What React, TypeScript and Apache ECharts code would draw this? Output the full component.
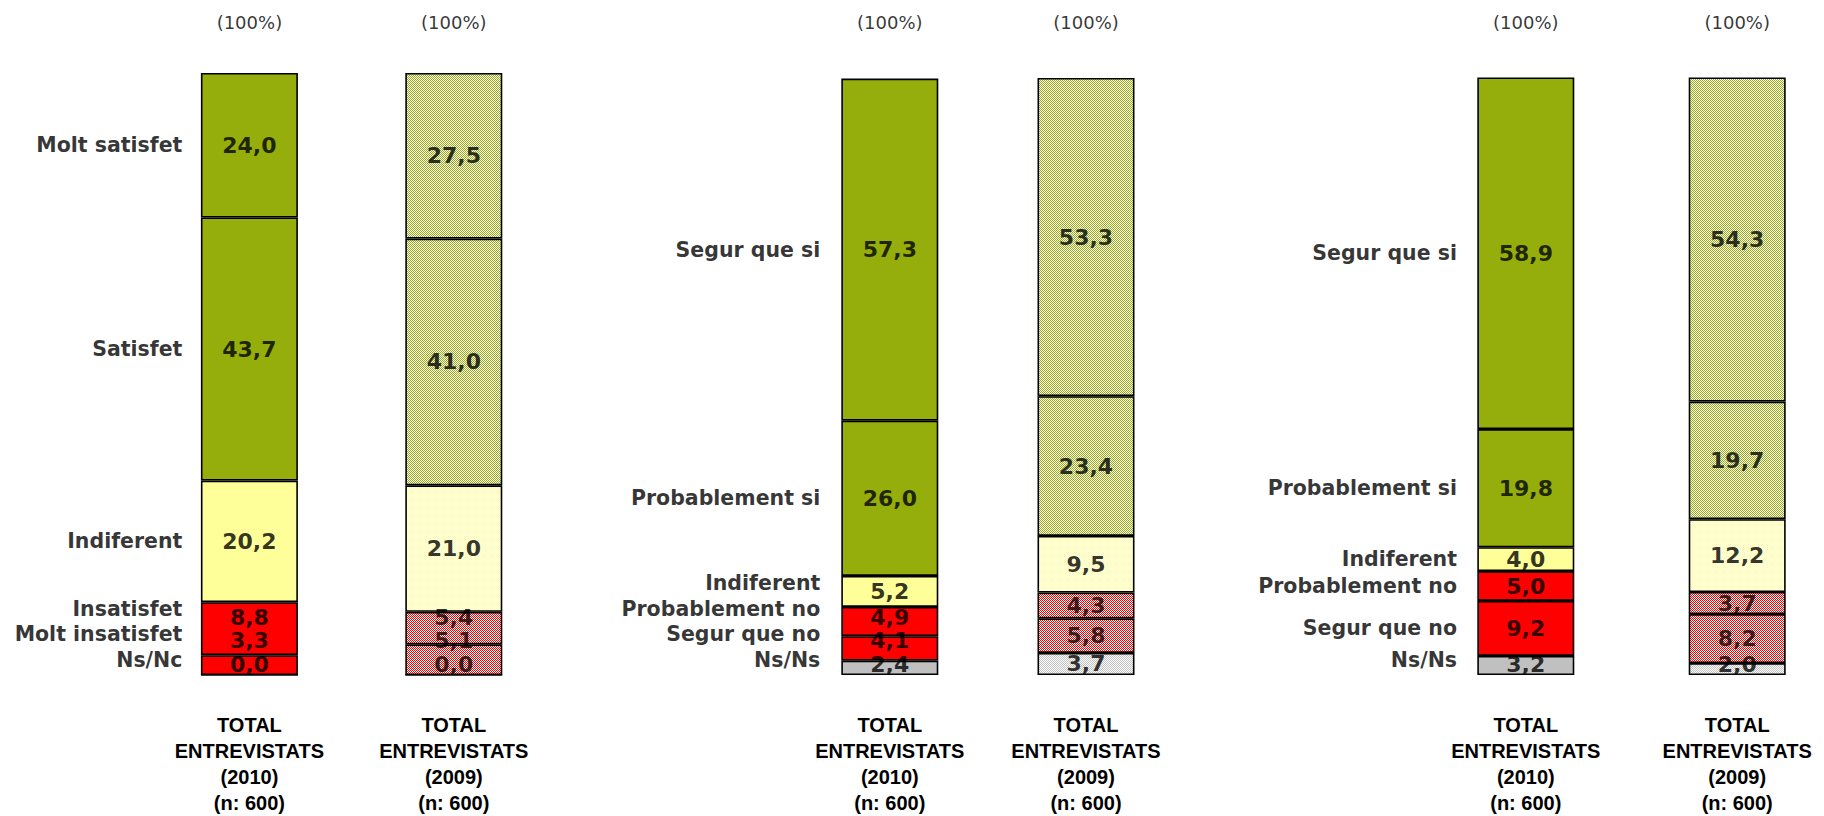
import React, { useEffect, useRef } from "react";
import * as echarts from "echarts";

// ---------- Data ----------
const X_LABELS = [
  "TOTAL\nENTREVISTATS\n(2010)\n(n: 600)",
  "TOTAL\nENTREVISTATS\n(2009)\n(n: 600)",
];
const TOTAL_LABEL = "(100%)";
const TOTAL = 100;

// categories listed top to bottom
const P1_CATS = ["Molt satisfet", "Satisfet", "Indiferent", "Insatisfet", "Molt insatisfet", "Ns/Nc"];
const P1_KINDS = ["g", "g", "y", "r", "r", "r"];
const P1_2010 = [24.0, 43.7, 20.2, 8.8, 3.3, 0.0];
const P1_2009 = [27.5, 41.0, 21.0, 5.4, 5.1, 0.0];

const P2_CATS = ["Segur que si", "Probablement si", "Indiferent", "Probablement no", "Segur que no", "Ns/Ns"];
const P2_KINDS = ["g", "g", "y", "r", "r", "k"];
const P2_2010 = [57.3, 26.0, 5.2, 4.9, 4.1, 2.4];
const P2_2009 = [53.3, 23.4, 9.5, 4.3, 5.8, 3.7];

const P3_CATS = ["Segur que si", "Probablement si", "Indiferent", "Probablement no", "Segur que no", "Ns/Ns"];
const P3_KINDS = ["g", "g", "y", "r", "r", "k"];
const P3_2010 = [58.9, 19.8, 4.0, 5.0, 9.2, 3.2];
const P3_2009 = [54.3, 19.7, 12.2, 3.7, 8.2, 2.0];

// ---------- Styles / layout ----------
const SOLID: Record<string, string> = { g: "#96AE0B", y: "#FFFF99", r: "#FF0000", k: "#C0C0C0" };

// bar centres (2010, 2009) per panel, plot top/height, category-label distance, "(100%)" distance
const PANELS_LAYOUT = [
  { centers: [249.4, 453.8], top: 73, height: 604, catDist: 66.5, totalDist: 41.5 },
  { centers: [889.8, 1086], top: 78, height: 600, catDist: 69, totalDist: 46.5 },
  { centers: [1525.8, 1737.2], top: 78, height: 600, catDist: 68.3, totalDist: 46.5 },
];
const GRID_W = 140;
const BAR_W = 97;
const VALUE_GAP_PX = 23.5;
const VALUE_BOTTOM_PX = 11;
const CAT_GAP_PX = 25.5;
const CAT_BOTTOM_PX = 15.5;

const fmt = (v: number) => v.toFixed(1).replace(".", ",");

function makePattern(fg: string, bg = "#FFFFFF") {
  const c = document.createElement("canvas");
  c.width = 2;
  c.height = 2;
  const ctx = c.getContext("2d")!;
  ctx.fillStyle = bg;
  ctx.fillRect(0, 0, 2, 2);
  ctx.fillStyle = fg;
  ctx.fillRect(0, 0, 1, 1);
  ctx.fillRect(1, 1, 1, 1);
  return { image: c, repeat: "repeat" };
}

// label centres in value units, stacked from the bottom with a minimum gap
function labelPositions(valsTopDown: number[], gap: number, bottomMin: number) {
  const n = valsTopDown.length;
  const out: number[] = new Array(n);
  let cum = 0;
  let prev = -Infinity;
  for (let i = n - 1; i >= 0; i--) {
    const v = valsTopDown[i];
    const c = cum + v / 2;
    cum += v;
    const pos = Math.max(c, bottomMin, prev + gap);
    out[i] = pos;
    prev = pos;
  }
  return out;
}

const hidden = { symbolSize: 1, itemStyle: { color: "rgba(0,0,0,0)" }, z: 10, silent: true };

function buildOption() {
  const PATTERN: Record<string, any> = {
    g: makePattern("#96AE0B"),
    y: makePattern("#FFFF99"),
    r: makePattern("#FF0000"),
    k: makePattern("#C0C0C0"),
  };
  const panels = [
    { cats: P1_CATS, kinds: P1_KINDS, years: [P1_2010, P1_2009] },
    { cats: P2_CATS, kinds: P2_KINDS, years: [P2_2010, P2_2009] },
    { cats: P3_CATS, kinds: P3_KINDS, years: [P3_2010, P3_2009] },
  ];

  const grid: any[] = [];
  const xAxis: any[] = [];
  const yAxis: any[] = [];
  const series: any[] = [];

  panels.forEach((p, pi) => {
    const L = PANELS_LAYOUT[pi];
    const pxPer = L.height / 100;
    const n = p.cats.length;

    p.years.forEach((vals, yi) => {
      const k = grid.length;
      grid.push({
        left: L.centers[yi] - GRID_W / 2,
        width: GRID_W,
        top: L.top,
        height: L.height,
        containLabel: false,
      });
      xAxis.push({
        type: "category",
        gridIndex: k,
        data: [X_LABELS[yi]],
        axisLine: { show: false },
        axisTick: { show: false },
        axisLabel: {
          interval: 0,
          margin: 37,
          color: "#000",
          fontFamily: "Liberation Sans",
          fontWeight: "bold",
          fontSize: 20,
          lineHeight: 26,
        },
      });
      yAxis.push({ type: "value", gridIndex: k, min: 0, max: 100, show: false, splitLine: { show: false } });

      const colors = yi === 0 ? SOLID : PATTERN;
      for (let i = n - 1; i >= 0; i--) {
        series.push({
          type: "bar",
          name: p.cats[i],
          stack: "s" + k,
          xAxisIndex: k,
          yAxisIndex: k,
          barWidth: BAR_W,
          itemStyle: { borderColor: "#000", borderWidth: 1.6 },
          data: [{ value: vals[i], itemStyle: { color: colors[p.kinds[i]] } }],
        });
      }

      // value labels
      const pos = labelPositions(vals, VALUE_GAP_PX / pxPer, VALUE_BOTTOM_PX / pxPer);
      series.push({
        type: "scatter",
        xAxisIndex: k,
        yAxisIndex: k,
        ...hidden,
        data: vals.map((v, i) => [0, pos[i], v]),
        label: {
          show: true,
          position: "inside",
          formatter: (prm: any) => fmt(prm.value[2]),
          color: "#000",
          fontFamily: "DejaVu Sans",
          fontWeight: "bold",
          fontSize: 22,
          lineHeight: 22,
        },
      });

      // "(100%)"
      series.push({
        type: "scatter",
        xAxisIndex: k,
        yAxisIndex: k,
        ...hidden,
        data: [[0, TOTAL]],
        label: {
          show: true,
          position: "top",
          distance: L.totalDist,
          formatter: TOTAL_LABEL,
          color: "#000",
          fontFamily: "DejaVu Sans",
          fontSize: 18,
        },
      });

      // category labels beside the 2010 bar
      if (yi === 0) {
        const posC = labelPositions(vals, CAT_GAP_PX / pxPer, CAT_BOTTOM_PX / pxPer);
        series.push({
          type: "scatter",
          xAxisIndex: k,
          yAxisIndex: k,
          ...hidden,
          data: p.cats.map((c, i) => ({ value: [0, posC[i]], name: c })),
          label: {
            show: true,
            position: "left",
            distance: L.catDist,
            formatter: (prm: any) => prm.name,
            color: "#000",
            fontFamily: "DejaVu Sans",
            fontWeight: "bold",
            fontSize: 20.5,
            lineHeight: 24,
            align: "right",
            verticalAlign: "middle",
          },
        });
      }
    });
  });

  return {
    animation: false,
    backgroundColor: "#FFFFFF",
    grid,
    xAxis,
    yAxis,
    series,
  };
}

export default function App() {
  const ref = useRef<HTMLDivElement>(null);
  useEffect(() => {
    if (!ref.current) return;
    const chart = echarts.init(ref.current, null, { renderer: "svg" });
    chart.setOption(buildOption() as any);
    return () => chart.dispose();
  }, []);
  return (
    <div
      ref={ref}
      style={{ position: "fixed", left: 0, top: 0, width: 1824, height: 816, background: "#fff" }}
    />
  );
}
